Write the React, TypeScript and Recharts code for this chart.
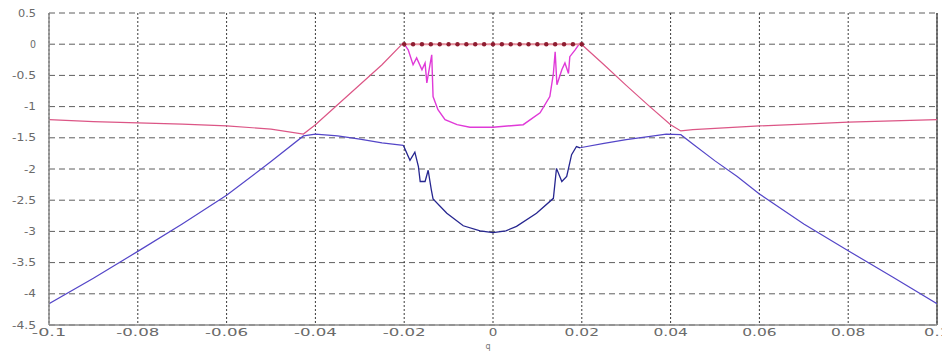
import { LineChart, Line, XAxis, YAxis, CartesianGrid, ReferenceLine } from "recharts";

// axis ticks
const xTicks = [-0.1, -0.08, -0.06, -0.04, -0.02, 0, 0.02, 0.04, 0.06, 0.08, 0.1];
const yTicks = [0.5, 0, -0.5, -1, -1.5, -2, -2.5, -3, -3.5, -4, -4.5];

// upper branch (pink), left outer part: flat then rising diagonal
const upLeftQ = [-0.1, -0.09, -0.08, -0.07, -0.06, -0.05, -0.0427, -0.04, -0.035, -0.03, -0.025, -0.0202];
const upLeftV = [-1.21, -1.24, -1.26, -1.28, -1.31, -1.36, -1.44, -1.29, -0.97, -0.65, -0.33, 0.02];

// upper branch, inner part (magenta)
const upInnerQ = [
  -0.0202, -0.0191, -0.018, -0.0172, -0.016, -0.0153, -0.0149, -0.0142, -0.0138, -0.0135, -0.0124, -0.0108,
  -0.0081, -0.0052, 0, 0.0068, 0.0106, 0.0128, 0.0136, 0.014, 0.0144, 0.0155, 0.0162, 0.017, 0.0173, 0.0185, 0.0196,
];
const upInnerV = [
  0.02, -0.09, -0.33, -0.22, -0.41, -0.3, -0.62, -0.33, -0.17, -0.84, -1.05, -1.21,
  -1.29, -1.33, -1.33, -1.29, -1.1, -0.84, -0.47, -0.12, -0.65, -0.41, -0.3, -0.47, -0.2, -0.09, 0.02,
];

// upper branch, right outer part
const upRightQ = [0.0196, 0.025, 0.03, 0.035, 0.04, 0.0423, 0.045, 0.05, 0.06, 0.07, 0.08, 0.09, 0.1];
const upRightV = [0.02, -0.33, -0.66, -0.98, -1.29, -1.39, -1.37, -1.35, -1.31, -1.28, -1.25, -1.23, -1.21];

// lower branch (blue), left outer part: diagonal then flat
const loLeftQ = [-0.1, -0.09, -0.08, -0.07, -0.06, -0.05, -0.0427, -0.04, -0.035, -0.03, -0.025, -0.0202];
const loLeftV = [-4.16, -3.75, -3.32, -2.88, -2.42, -1.88, -1.47, -1.44, -1.47, -1.52, -1.58, -1.62];

// lower branch, inner part
const loInnerQ = [
  -0.0202, -0.0187, -0.0176, -0.0168, -0.0164, -0.0153, -0.0146, -0.0139, -0.0135, -0.0104, -0.0067, -0.0029,
  0, 0.0029, 0.0053, 0.0098, 0.0136, 0.0143, 0.0155, 0.0166, 0.0177, 0.0188, 0.0196,
];
const loInnerV = [
  -1.62, -1.86, -1.73, -1.96, -2.2, -2.2, -2.02, -2.33, -2.48, -2.71, -2.91, -2.99,
  -3.02, -2.99, -2.92, -2.71, -2.47, -1.99, -2.2, -2.12, -1.77, -1.64, -1.66,
];

// lower branch, right outer part
const loRightQ = [0.0196, 0.025, 0.03, 0.035, 0.039, 0.0423, 0.045, 0.05, 0.055, 0.06, 0.07, 0.08, 0.09, 0.1];
const loRightV = [-1.66, -1.59, -1.53, -1.48, -1.44, -1.45, -1.6, -1.87, -2.12, -2.4, -2.88, -3.31, -3.73, -4.16];

// flat line at zero between the two edges
const zeroQ = [
  -0.02, -0.018, -0.016, -0.014, -0.012, -0.01, -0.008, -0.006, -0.004, -0.002, 0,
  0.002, 0.004, 0.006, 0.008, 0.01, 0.012, 0.014, 0.016, 0.018, 0.02,
];
const zeroV = zeroQ.map(() => 0);

const zip = (q: number[], v: number[]) => q.map((x, i) => ({ q: x, v: v[i] }));

const FONT = "DejaVu Sans, sans-serif";

function XTick({ x, y, payload }: any) {
  const label = String(payload.value);
  return (
    <text
      x={x}
      y={y + 11}
      textAnchor="middle"
      fontSize={10}
      fontFamily={FONT}
      fill="#6a6a6a"
      textLength={label.length * 8.6}
      lengthAdjust="spacingAndGlyphs"
    >
      {label}
    </text>
  );
}

function YTick({ x, y, payload }: any) {
  const label = String(payload.value);
  return (
    <text
      x={x - 13}
      y={y + 3.5}
      textAnchor="end"
      fontSize={10}
      fontFamily={FONT}
      fill="#6a6a6a"
      textLength={label.length * 6}
      lengthAdjust="spacingAndGlyphs"
    >
      {label}
    </text>
  );
}

export default function App() {
  return (
    <div style={{ width: 942, height: 351, background: "#fff" }}>
      <style>{"body{margin:0}"}</style>
      <LineChart width={942} height={351} margin={{ top: 13, right: 5, bottom: 0, left: 0 }}>
        <CartesianGrid vertical={false} stroke="#5e5e5e" strokeDasharray="6 4" />
        <CartesianGrid horizontal={false} stroke="#3a3a3a" strokeDasharray="2 2" />
        <XAxis
          dataKey="q"
          type="number"
          domain={[-0.1, 0.1]}
          ticks={xTicks}
          allowDataOverflow
          height={26}
          tickSize={0}
          tickMargin={0}
          tickLine={false}
          axisLine={{ stroke: "#8a8a8a", strokeWidth: 1.5 }}
          tick={<XTick />}
          interval={0}
          label={{ value: "q", position: "insideBottom", offset: 2, dx: -5, fontSize: 8, fill: "#777", fontFamily: FONT }}
        />
        <YAxis
          dataKey="v"
          type="number"
          domain={[-4.5, 0.5]}
          ticks={yTicks}
          allowDataOverflow
          width={49}
          tickSize={0}
          tickMargin={0}
          tickLine={false}
          axisLine={{ stroke: "#8a8a8a", strokeWidth: 1.5 }}
          tick={<YTick />}
          interval={0}
        />
        <ReferenceLine x={0.1} stroke="#555" strokeWidth={1.5} />
        <Line data={zip(upLeftQ, upLeftV)} dataKey="v" stroke="#dc5686" strokeWidth={1.2} dot={false} isAnimationActive={false} />
        <Line data={zip(upRightQ, upRightV)} dataKey="v" stroke="#dc5686" strokeWidth={1.2} dot={false} isAnimationActive={false} />
        <Line data={zip(loLeftQ, loLeftV)} dataKey="v" stroke="#5446c8" strokeWidth={1.2} dot={false} isAnimationActive={false} />
        <Line data={zip(loRightQ, loRightV)} dataKey="v" stroke="#5446c8" strokeWidth={1.2} dot={false} isAnimationActive={false} />
        <Line data={zip(loInnerQ, loInnerV)} dataKey="v" stroke="#262690" strokeWidth={1.3} dot={false} isAnimationActive={false} />
        <Line data={zip(upInnerQ, upInnerV)} dataKey="v" stroke="#e03ad8" strokeWidth={1.4} dot={false} isAnimationActive={false} />
        <Line
          data={zip(zeroQ, zeroV)}
          dataKey="v"
          stroke="#e8909e"
          strokeWidth={2}
          dot={{ r: 2.2, fill: "#8e1c30", stroke: "none" }}
          isAnimationActive={false}
        />
      </LineChart>
    </div>
  );
}
